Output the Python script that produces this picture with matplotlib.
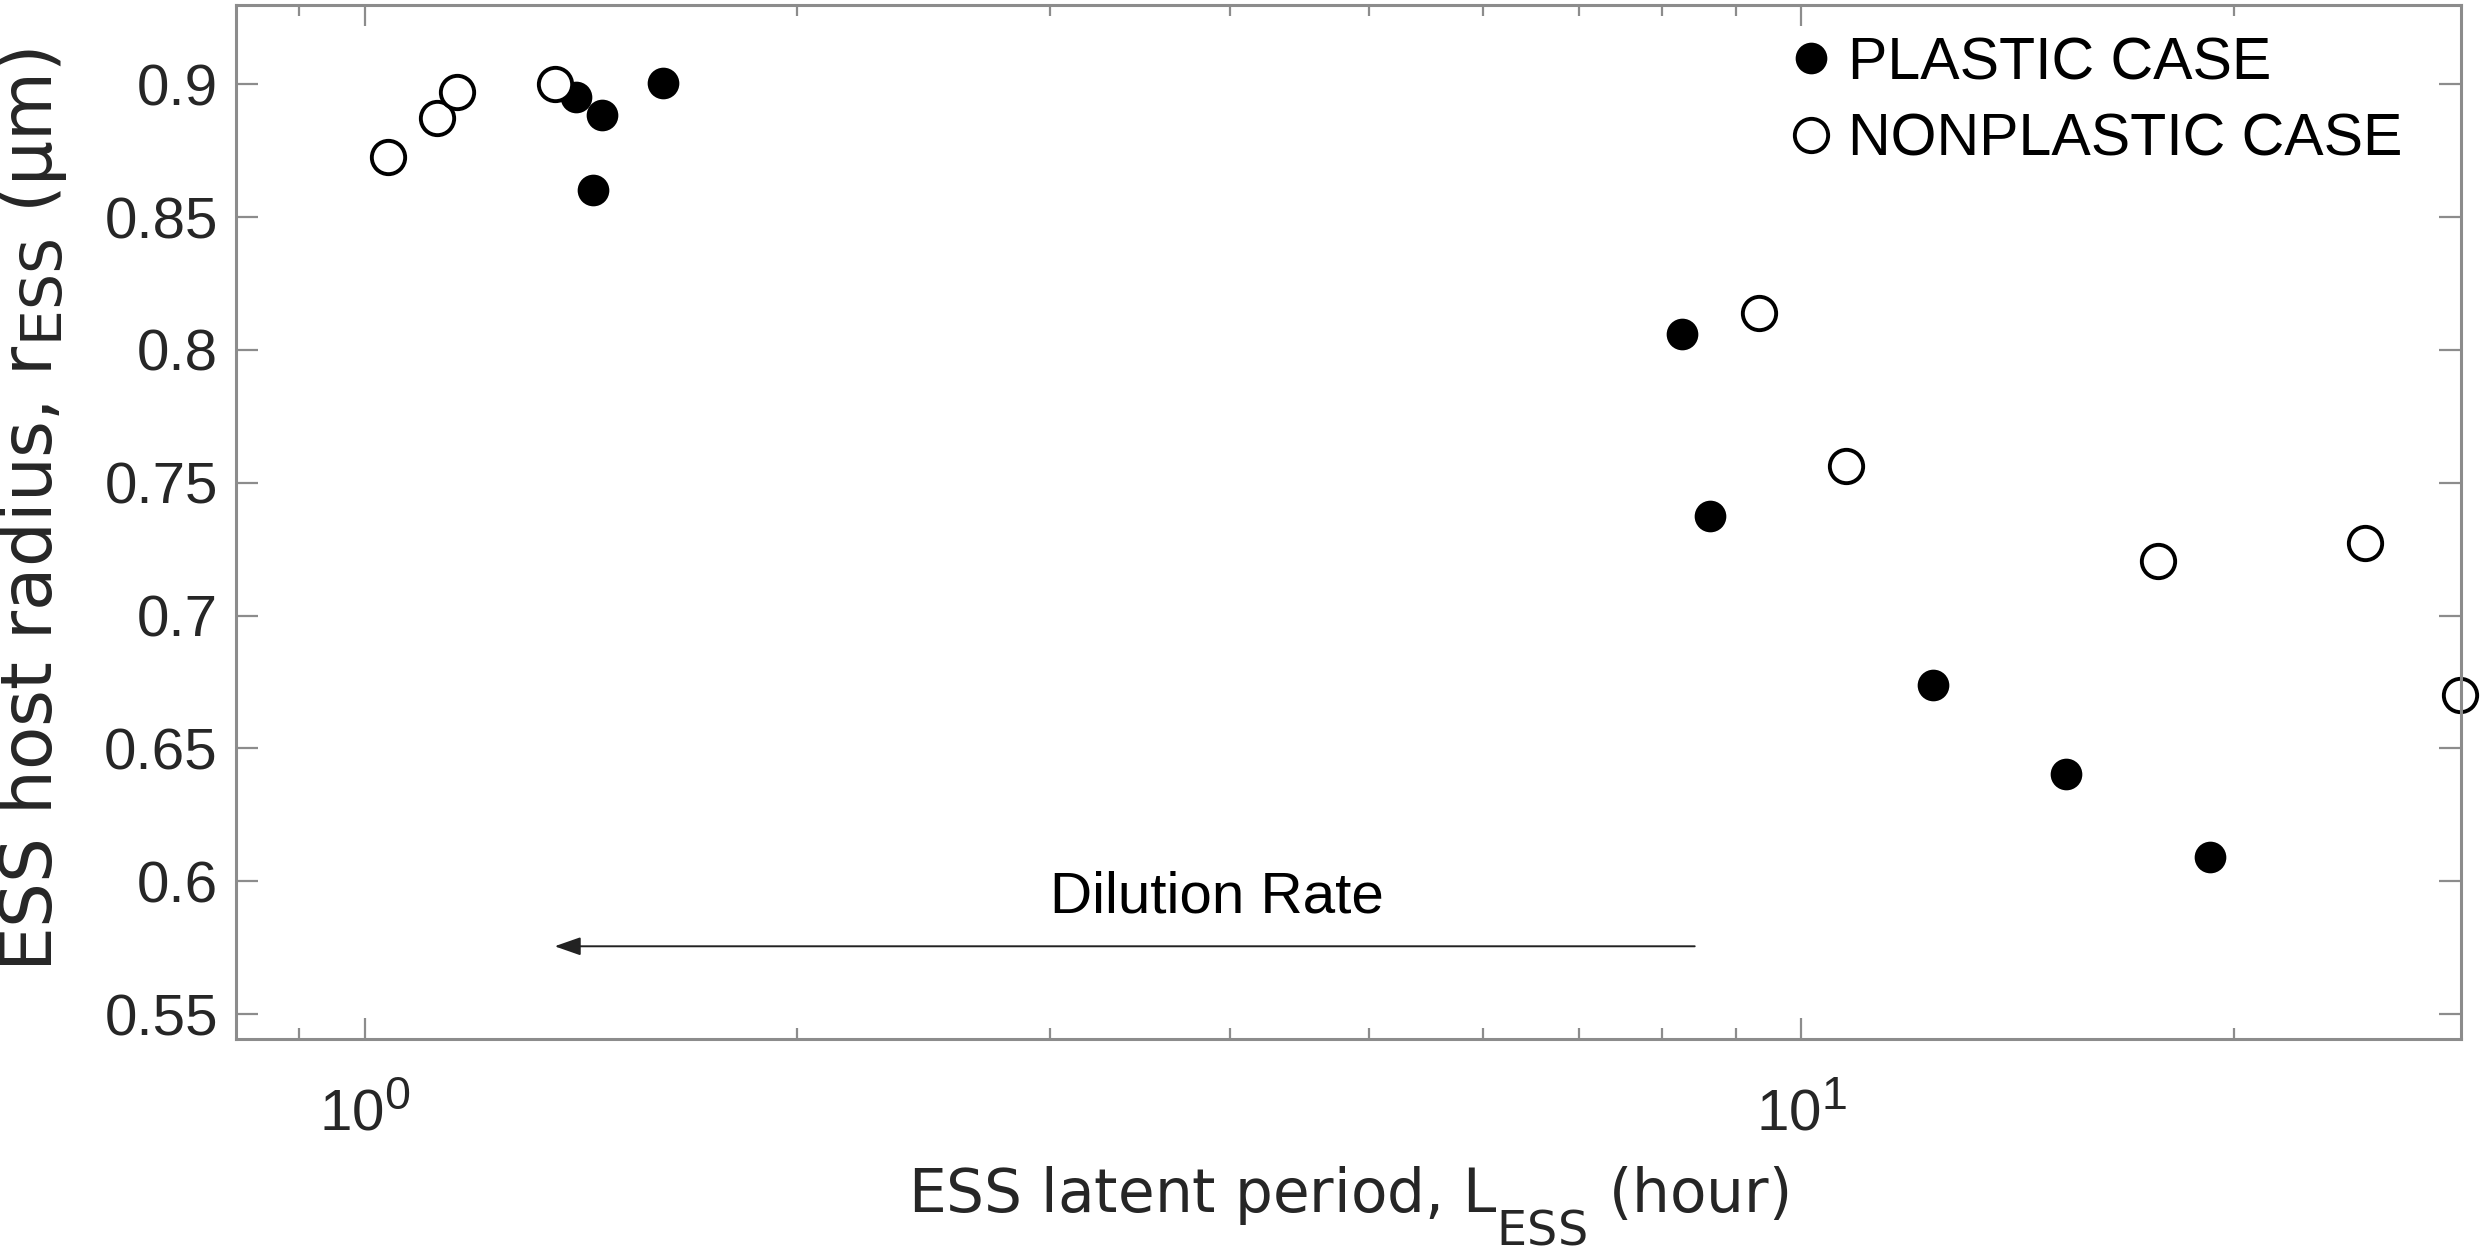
import matplotlib
matplotlib.use("Agg")
import matplotlib.pyplot as plt
import matplotlib._mathtext as _mt
from matplotlib.ticker import FixedLocator, FixedFormatter, NullFormatter

_mt.SHRINK_FACTOR = 0.8
_mt.DejaVuSansFontConstants.sub1 = 1.0

plt.rcParams['font.family'] = ['Liberation Sans', 'DejaVu Sans']
plt.rcParams['mathtext.fontset'] = 'custom'
plt.rcParams['mathtext.rm'] = 'Liberation Sans'
plt.rcParams['mathtext.it'] = 'Liberation Sans:italic'
plt.rcParams['mathtext.bf'] = 'Liberation Sans:bold'
plt.rcParams['mathtext.sf'] = 'DejaVu Sans'

# ---- data ----
plastic_L = [1.402, 1.463, 1.440, 1.611, 8.26, 8.64, 12.36, 15.30, 19.27]
plastic_r = [0.8952, 0.8884, 0.860, 0.9003, 0.806, 0.7375, 0.674, 0.6405, 0.6092]
nonplastic_L = [1.038, 1.122, 1.158, 1.356, 9.35, 10.75, 17.73, 24.70, 28.75]
nonplastic_r = [0.8727, 0.8871, 0.8971, 0.900, 0.8139, 0.7562, 0.7205, 0.7274, 0.6701]

yticks = [0.55, 0.6, 0.65, 0.7, 0.75, 0.8, 0.85, 0.9]
ytick_labels = ['0.55', '0.6', '0.65', '0.7', '0.75', '0.8', '0.85', '0.9']
legend_labels = ['PLASTIC CASE', 'NONPLASTIC CASE']
arrow_start = (8.43, 0.5755)
arrow_end = (1.355, 0.5755)
arrow_text = 'Dilution Rate'
text_pos = (3.0, 0.5884)

W, H = 2484, 1255
fig = plt.figure(figsize=(W / 100, H / 100), dpi=100)
ax = fig.add_axes([236 / W, (H - 1039) / H, (2461 - 236) / W, (1039 - 5) / H])

ax.plot(plastic_L, plastic_r, linestyle='none', marker='o', ms=21.5,
        mfc='black', mec='black', mew=1.3, label=legend_labels[0], clip_on=False)
ax.plot(nonplastic_L, nonplastic_r, linestyle='none', marker='o', ms=24,
        mfc='white', mec='black', mew=2.8, label=legend_labels[1], clip_on=False)

ax.set_xscale('log')
ax.set_xlim(0.813, 28.8)
ax.set_ylim(0.5406, 0.9298)

ax.xaxis.set_major_locator(FixedLocator([1, 10]))
ax.xaxis.set_minor_locator(FixedLocator([0.9, 2, 3, 4, 5, 6, 7, 8, 9, 20]))
ax.xaxis.set_minor_formatter(NullFormatter())
ax.set_xticklabels([r'$\mathregular{10^{0}}$', r'$\mathregular{10^{1}}$'])
ax.yaxis.set_major_locator(FixedLocator(yticks))
ax.yaxis.set_major_formatter(FixedFormatter(ytick_labels))

spine_c = '#8c8c8c'
for s in ax.spines.values():
    s.set_color(spine_c)
    s.set_linewidth(2.2)
ax.tick_params(which='both', direction='in', top=True, right=True,
               color=spine_c, width=1.6, labelcolor='#262626', labelsize=42)
ax.tick_params(axis='x', which='major', length=15, pad=33)
ax.tick_params(axis='x', which='minor', length=8)
ax.tick_params(axis='y', which='major', length=16, pad=13)

ax.set_xlabel(r'ESS latent period, $\mathsf{L_{ESS}}$ (hour)', fontsize=43,
              family='DejaVu Sans', color='#262626', labelpad=16)
ax.set_ylabel(r'ESS host radius, r$_{\mathregular{ESS}}$ ($\mathregular{\mu}$m)', fontsize=51,
              family='DejaVu Sans', color='#262626', labelpad=25)
ax.yaxis.label.set_y(0.512)

ax.annotate('', xy=arrow_end, xytext=arrow_start,
            arrowprops=dict(arrowstyle='-|>,head_length=0.8,head_width=0.28',
                            color='#222222', lw=1.4, mutation_scale=20,
                            shrinkA=0, shrinkB=0))
ax.text(text_pos[0], text_pos[1], arrow_text, fontsize=42, color='black',
        ha='left', va='baseline')

ax.legend(loc='upper left', bbox_to_anchor=(0.700, 0.970), frameon=False,
          fontsize=42.5, handlelength=0.6, handletextpad=0.33, borderpad=0,
          borderaxespad=0, labelspacing=0.36, numpoints=1, labelcolor='black')

fig.savefig('out.png', dpi=100)
